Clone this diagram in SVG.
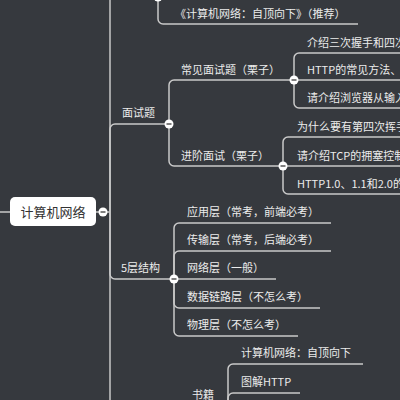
<svg xmlns="http://www.w3.org/2000/svg" width="400" height="400" viewBox="0 0 400 400">
<style>
.bg{fill:#36393e}
.ln{fill:none;stroke:#c9c9c9;stroke-width:1.5}
.t{font-family:"Noto Sans CJK SC","Noto Sans",sans-serif;font-size:11px;fill:#ececec}
.root{font-family:"Noto Sans CJK SC","Noto Sans",sans-serif;font-size:13px;fill:#333}
.knob{fill:#ffffff}
.minus{stroke:#555;stroke-width:1.5}
</style>
<defs>
<g id="btn"><circle class="knob" r="4.5"/><line class="minus" x1="-2.5" y1="0" x2="2.5" y2="0"/></g>
</defs>
<rect class="bg" x="0" y="0" width="400" height="400"/>
<g id="connectors">
<path class="ln" d="M0,212 H10"/>
<path class="ln" d="M96,212 H110"/>
<path class="ln" d="M110,212 V0"/>
<path class="ln" d="M110,212 V129 A5,5 0 0 1 115,124 H169"/>
<path class="ln" d="M110,212 V274 A5,5 0 0 0 115,279 H174"/>
<path class="ln" d="M110,212 V400"/>
<path class="ln" d="M158,0 V19 A5,5 0 0 0 163,24 H358"/>
<path class="ln" d="M169,124 V85 A5,5 0 0 1 174,80 H294"/>
<path class="ln" d="M169,124 V161 A5,5 0 0 0 174,166 H283"/>
<path class="ln" d="M294,80 V58 A5,5 0 0 1 299,53 H400"/>
<path class="ln" d="M294,80 H400"/>
<path class="ln" d="M294,80 V103 A5,5 0 0 0 299,108 H400"/>
<path class="ln" d="M283,166 V142 A5,5 0 0 1 288,137 H400"/>
<path class="ln" d="M283,166 H400"/>
<path class="ln" d="M283,166 V189 A5,5 0 0 0 288,194 H400"/>
<path class="ln" d="M174,279 V228 A5,5 0 0 1 179,223 H331"/>
<path class="ln" d="M174,279 V256 A5,5 0 0 1 179,251 H331"/>
<path class="ln" d="M174,279 H276"/>
<path class="ln" d="M174,279 V303 A5,5 0 0 0 179,308 H320"/>
<path class="ln" d="M174,279 V331 A5,5 0 0 0 179,336 H298"/>
<path class="ln" d="M228,400 V369 A5,5 0 0 1 233,364 H363"/>
<path class="ln" d="M228,400 V398 A5,5 0 0 1 233,393 H300"/>
</g>
<g id="node-root">
<rect x="10" y="197" width="86" height="29" rx="5" fill="#ffffff"/>
<text class="root" x="53" y="216.5" text-anchor="middle">计算机网络</text>
<use href="#btn" x="103" y="212"/>
</g>
<g id="node-top-parent"><use href="#btn" x="158" y="-3"/></g>
<g id="node-book-top"><text class="t" x="175" y="18">《计算机网络：自顶向下》（推荐）</text></g>
<g id="node-mst">
<text class="t" x="122" y="117">面试题</text>
<use href="#btn" x="169" y="124"/>
</g>
<g id="node-common">
<text class="t" x="181" y="74">常见面试题（栗子）</text>
<use href="#btn" x="294" y="80"/>
</g>
<g id="node-adv">
<text class="t" x="181" y="160">进阶面试（栗子）</text>
<use href="#btn" x="283" y="166"/>
</g>
<g id="node-c1"><text class="t" x="307" y="47">介绍三次握手和四次挥手</text></g>
<g id="node-c2"><text class="t" x="307" y="74">HTTP的常见方法、状态码</text></g>
<g id="node-c3"><text class="t" x="307" y="102">请介绍浏览器从输入</text></g>
<g id="node-a1"><text class="t" x="297" y="131">为什么要有第四次挥手</text></g>
<g id="node-a2"><text class="t" x="297" y="160">请介绍TCP的拥塞控制</text></g>
<g id="node-a3"><text class="t" x="297" y="188">HTTP1.0、1.1和2.0的区别</text></g>
<g id="node-layers">
<text class="t" x="121" y="272">5层结构</text>
<use href="#btn" x="174" y="279"/>
</g>
<g id="node-l1"><text class="t" x="187" y="216">应用层（常考，前端必考）</text></g>
<g id="node-l2"><text class="t" x="187" y="244">传输层（常考，后端必考）</text></g>
<g id="node-l3"><text class="t" x="187" y="272">网络层（一般）</text></g>
<g id="node-l4"><text class="t" x="187" y="301">数据链路层（不怎么考）</text></g>
<g id="node-l5"><text class="t" x="187" y="329">物理层（不怎么考）</text></g>
<g id="node-books"><text class="t" x="192" y="399">书籍</text></g>
<g id="node-b1"><text class="t" x="241" y="357">计算机网络：自顶向下</text></g>
<g id="node-b2"><text class="t" x="241" y="386">图解HTTP</text></g>
</svg>
